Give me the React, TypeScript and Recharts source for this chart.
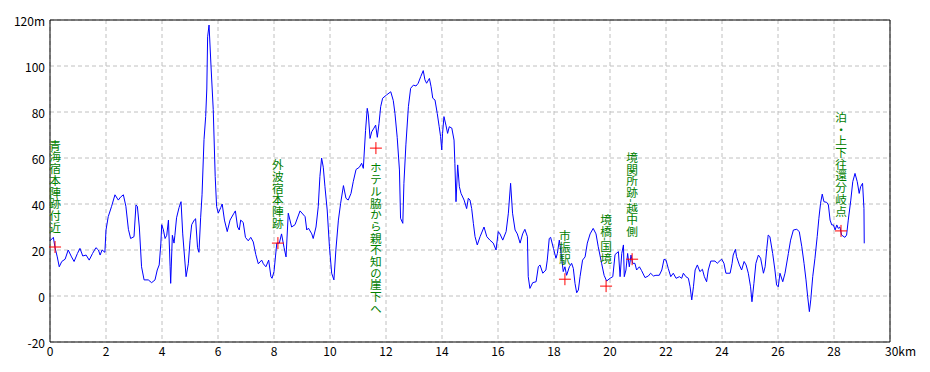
import { ComposedChart, Line, Scatter, XAxis, YAxis, CartesianGrid, ReferenceLine } from "recharts";

// distance along the route (km) and elevation (m)
const distKm = [
  0.0, 0.12, 0.18, 0.26, 0.33, 0.42, 0.54, 0.65, 0.77, 0.86, 0.98, 1.07, 1.17, 1.29, 1.4, 1.52, 1.64, 1.73, 1.79, 1.86,
  1.96, 2.0, 2.08, 2.2, 2.32, 2.44, 2.52, 2.62, 2.71, 2.8, 2.88, 3.0, 3.07, 3.12, 3.19, 3.27, 3.36, 3.51, 3.63, 3.75,
  3.83, 3.9, 3.96, 3.99, 4.05, 4.11, 4.17, 4.23, 4.29, 4.31, 4.37, 4.43, 4.46, 4.52, 4.61, 4.68, 4.74, 4.86, 4.94, 5.0,
  5.06, 5.15, 5.2, 5.27, 5.32, 5.38, 5.43, 5.5, 5.56, 5.6, 5.63, 5.68, 5.75, 5.83, 5.9, 5.95, 6.01, 6.1, 6.15, 6.23,
  6.33, 6.43, 6.57, 6.62, 6.7, 6.76, 6.81, 6.9, 6.98, 7.08, 7.17, 7.26, 7.35, 7.44, 7.56, 7.62, 7.71, 7.81, 7.89, 7.93,
  8.0, 8.1, 8.19, 8.27, 8.36, 8.43, 8.51, 8.63, 8.75, 8.93, 9.11, 9.17, 9.23, 9.35, 9.4, 9.5, 9.58, 9.64, 9.7, 9.76,
  9.82, 9.9, 9.98, 10.06, 10.14, 10.21, 10.3, 10.38, 10.48, 10.57, 10.65, 10.75, 10.83, 10.93, 11.05, 11.13, 11.19, 11.27, 11.33, 11.37,
  11.43, 11.49, 11.57, 11.63, 11.69, 11.75, 11.81, 11.88, 12.02, 12.17, 12.26, 12.32, 12.4, 12.48, 12.52, 12.6, 12.64, 12.71, 12.8, 12.88,
  12.98, 13.07, 13.15, 13.24, 13.33, 13.39, 13.45, 13.55, 13.61, 13.67, 13.75, 13.83, 13.9, 13.95, 13.99, 14.02, 14.07, 14.14, 14.2, 14.26,
  14.35, 14.43, 14.46, 14.5, 14.56, 14.62, 14.68, 14.79, 14.88, 14.94, 15.0, 15.06, 15.12, 15.18, 15.26, 15.36, 15.5, 15.6, 15.71, 15.83,
  15.93, 16.01, 16.07, 16.17, 16.29, 16.37, 16.45, 16.52, 16.61, 16.69, 16.79, 16.88, 16.96, 17.05, 17.08, 17.14, 17.24, 17.36, 17.44, 17.5,
  17.6, 17.71, 17.76, 17.83, 17.88, 17.98, 18.07, 18.12, 18.19, 18.27, 18.33, 18.39, 18.45, 18.55, 18.63, 18.69, 18.75, 18.81, 18.87, 18.93,
  19.02, 19.11, 19.19, 19.29, 19.4, 19.5, 19.58, 19.7, 19.79, 19.88, 20.0, 20.1, 20.18, 20.3, 20.36, 20.42, 20.48, 20.51, 20.57, 20.63,
  20.69, 20.75, 20.81, 20.89, 20.95, 21.05, 21.13, 21.25, 21.37, 21.45, 21.55, 21.64, 21.76, 21.85, 21.93, 22.0, 22.08, 22.17, 22.26, 22.36,
  22.48, 22.56, 22.62, 22.71, 22.8, 22.86, 22.92, 22.98, 23.04, 23.12, 23.21, 23.3, 23.37, 23.45, 23.51, 23.6, 23.75, 23.83, 23.93, 23.99,
  24.07, 24.14, 24.29, 24.36, 24.4, 24.48, 24.52, 24.62, 24.7, 24.79, 24.86, 24.94, 25.02, 25.07, 25.14, 25.21, 25.3, 25.38, 25.48, 25.54,
  25.6, 25.65, 25.71, 25.81, 25.89, 25.95, 26.01, 26.07, 26.17, 26.25, 26.37, 26.45, 26.55, 26.67, 26.76, 26.85, 26.93, 27.0, 27.06, 27.12,
  27.17, 27.24, 27.32, 27.4, 27.46, 27.52, 27.58, 27.64, 27.74, 27.8, 27.86, 27.92, 27.98, 28.04, 28.1, 28.15, 28.21, 28.27, 28.39, 28.45,
  28.51, 28.6, 28.67, 28.75, 28.83, 28.9, 28.95, 29.02, 29.07, 29.08,
];

const elevM = [
  24, 25.5, 21, 17, 12.7, 15, 16, 20, 17, 15, 18.5, 20.7, 17.4, 17.8, 15.6, 18.5, 21, 20, 17.8, 20,
  19, 28.7, 34.5, 39, 44, 41.7, 43, 44, 39, 29, 25, 25.8, 39.6, 39, 30, 12.7, 7, 7, 5.8, 7,
  11.3, 13.5, 23, 31, 28.7, 25, 26.4, 33, 12.7, 5.5, 26.4, 23, 26.4, 34, 38.5, 41, 27, 8.4, 14, 24,
  31, 33, 33.6, 21, 19, 34, 44, 68, 78, 90, 112.7, 117.8, 100, 81, 52, 39, 36, 38.5, 40, 33,
  28, 33, 36, 37, 30, 28.7, 33, 32, 25.5, 24, 25.5, 23.5, 18, 14, 15.6, 14, 12.7, 15.6, 8.4, 7.7,
  10.6, 23, 23, 27, 21, 17, 36, 30, 31, 37, 34.5, 28.7, 29.5, 27, 25, 30, 38.8, 52, 60, 56,
  47.5, 37.4, 21.4, 9.9, 7, 20, 33, 40.3, 48, 42.5, 41.7, 44.6, 49.7, 55, 56, 57.7, 55.5, 72, 81.6, 78.7,
  68.5, 71.4, 73, 74.3, 69, 75, 82.3, 86, 87.4, 88.8, 85, 79.4, 69, 54.8, 33.8, 31.6, 49, 65.7, 82.3, 90.3,
  91.7, 91.3, 92.5, 95.4, 98, 94, 92.5, 94.6, 91, 86, 85.2, 79.4, 73.6, 69.3, 63.5, 70.7, 78, 74.3, 70.7, 73.6,
  73, 67.8, 57.7, 41, 57, 47.5, 44.6, 41.7, 38, 42.5, 41.7, 38, 31.6, 25.8, 22.2, 25.8, 30, 25.8, 24.3, 23,
  20, 28, 27, 24.3, 28, 36, 49, 36, 28.7, 27, 23, 27, 29, 25.8, 8.4, 3.3, 5.8, 6.2, 12.7, 13.5,
  9.9, 11.3, 15.6, 25, 25.5, 20.7, 16.4, 18.5, 24.3, 17, 10.6, 12.7, 9, 12.7, 14.2, 12, 5.5, 1.4, 2.6, 8.4,
  15.6, 17, 23, 27, 29.4, 27, 21.4, 14.2, 9, 6.5, 7.7, 8.4, 18, 19.3, 8.4, 18.5, 22.2, 8.4, 11.3, 18.5,
  12.7, 17.8, 14.2, 14.2, 11.3, 12.7, 11, 8, 8.7, 9.9, 8.7, 9, 9, 11.3, 16, 15.6, 12, 8.4, 9.9, 7.7,
  8.4, 7.7, 9.9, 8.4, 7.7, 4, -1.7, 4, 11.3, 13.5, 10.6, 11.6, 8.4, 6.2, 11.3, 15.2, 15.2, 14.2, 15.4, 16,
  14.2, 9.9, 9.9, 14.2, 17.8, 20.3, 17.1, 13.5, 11.3, 15, 13.5, 9.9, 4, -2.5, 5.5, 14.2, 17.8, 16.4, 9.9, 12.7,
  20.7, 26.5, 25.8, 18.5, 11.3, 4.8, 4, 9.9, 6.2, 9.9, 18.5, 24.3, 28.7, 29, 28, 21.4, 14.2, 7, -0.3, -6.8,
  -1.7, 8.4, 16.4, 25.8, 33.8, 40.3, 44.3, 41, 40.7, 39.6, 33, 30.9, 30.9, 28.7, 30.9, 29.4, 30, 26.5, 25.5, 26.5,
  33, 41.7, 49.7, 53.3, 49.7, 44.6, 47.5, 49, 38, 22.9,
];

// waypoints along the route
const markerNames = [
  "青海宿本陣跡付近",
  "外波宿本陣跡",
  "ホテル脇から親不知の崖下へ",
  "市振駅",
  "境橋-国境",
  "境関所跡-越中側",
  "泊・上下往還分岐点",
];
const markerKm = [0.18, 8.14, 11.64, 18.39, 19.86, 20.79, 28.25];
const markerM = [21.3, 23, 64.3, 7.3, 4.3, 16, 28.3];

const xTicks = [0, 2, 4, 6, 8, 10, 12, 14, 16, 18, 20, 22, 24, 26, 28, 30];
const yTicks = [-20, 0, 20, 40, 60, 80, 100, 120];

const profile = distKm.map((km, i) => ({ km, m: elevM[i] }));
const markers = markerNames.map((name, i) => ({ name, km: markerKm[i], m: markerM[i] }));

// this one hangs below its cross, the rest sit above
const LABEL_BELOW = new Set(["ホテル脇から親不知の崖下へ"]);

const FONT = "'Noto Sans CJK JP', 'Noto Sans', sans-serif";

const XTick = ({ x, y, payload }: any) => {
  const last = payload.value === 30;
  return (
    <text
      x={last ? x - 5 : x}
      y={y + 14}
      textAnchor={last ? "start" : "middle"}
      fontSize={12}
      fill="#000"
      fontFamily={FONT}
    >
      {last ? "30km" : payload.value}
    </text>
  );
};

const YTick = ({ x, y, payload }: any) => (
  <text x={x} y={y} textAnchor="end" dominantBaseline="central" fontSize={12} fill="#000" fontFamily={FONT}>
    {payload.value === 120 ? "120m" : payload.value}
  </text>
);

const Waypoint = (props: any) => {
  const { cx, cy, payload } = props;
  if (cx == null || cy == null) return <g />;
  const name = payload.name as string;
  const size = 11.7;
  const len = Array.from(name).length * size;
  const top = LABEL_BELOW.has(name) ? cy + 14 : cy - 14 - len;
  return (
    <g>
      <line x1={cx - 6} x2={cx + 6} y1={cy} y2={cy} stroke="#ff0000" />
      <line x1={cx} x2={cx} y1={cy - 6} y2={cy + 6} stroke="#ff0000" />
      <text
        x={cx}
        y={top}
        textAnchor="start"
        fontSize={size}
        fill="#008000"
        fontFamily={FONT}
        style={{ writingMode: "vertical-rl" }}
      >
        {name}
      </text>
    </g>
  );
};

const App = () => {
  return (
    <div style={{ position: "absolute", left: 0, top: 0, width: 930, height: 372, background: "#fff" }}>
      <ComposedChart
        width={930}
        height={372}
        margin={{ top: 20, right: 40, bottom: 0, left: 0 }}
        style={{ fontFamily: FONT }}
      >
        <CartesianGrid stroke="#c0c0c0" strokeDasharray="4 3" />
        <XAxis
          type="number"
          dataKey="km"
          domain={[0, 30]}
          ticks={xTicks}
          height={30}
          tickLine={false}
          tickSize={0}
          tickMargin={0}
          axisLine={{ stroke: "#000" }}
          tick={<XTick />}
          interval={0}
        />
        <YAxis
          type="number"
          domain={[-20, 120]}
          ticks={yTicks}
          width={50}
          tickLine={false}
          tickSize={0}
          tickMargin={5}
          axisLine={{ stroke: "#000" }}
          tick={<YTick />}
          interval={0}
        />
        <ReferenceLine y={120} stroke="#000" />
        <ReferenceLine x={30} stroke="#000" />
        <Line
          data={profile}
          dataKey="m"
          type="linear"
          stroke="#0000ff"
          strokeWidth={1}
          dot={false}
          activeDot={false}
          isAnimationActive={false}
        />
        <Scatter data={markers} dataKey="m" shape={Waypoint} isAnimationActive={false} />
      </ComposedChart>
    </div>
  );
};

export default App;
